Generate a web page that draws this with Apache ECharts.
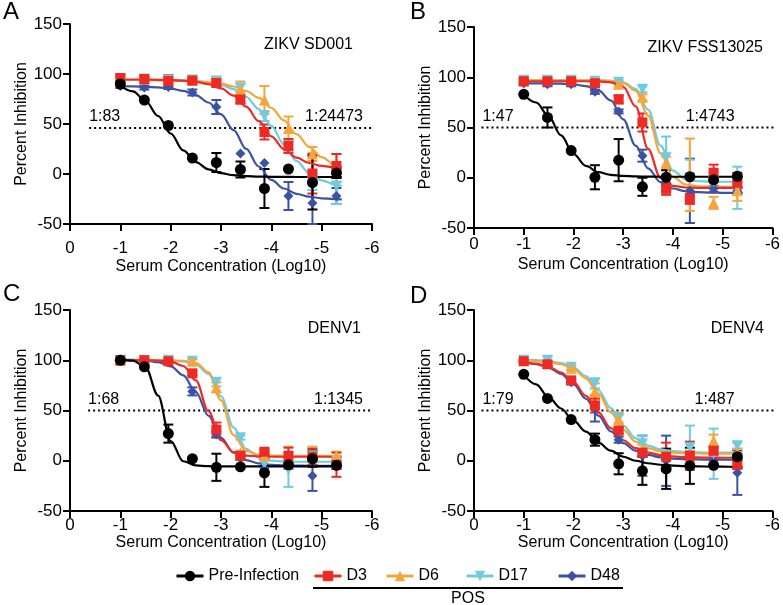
<!DOCTYPE html>
<html>
<head>
<meta charset="utf-8">
<script src="https://cdn.jsdelivr.net/npm/echarts@6/dist/echarts.min.js"></script>
<style>
html,body{margin:0;padding:0;background:#fff;}
#chart{width:783px;height:605px;}
</style>
</head>
<body>
<div id="chart"></div>
<script>
// ---------- data ----------
const SERIES_NAMES = ['Pre-Infection', 'D3', 'D6', 'D17', 'D48'];
// serum dilutions (log10), 3-fold series
const DILUTIONS = [-1, -1.477, -1.954, -2.431, -2.908, -3.386, -3.863, -4.340, -4.817, -5.294];
// x positions at which fitted curves were read
const CURVE_X = [-1, -1.25, -1.5, -1.75, -2, -2.25, -2.5, -2.75, -3, -3.25, -3.5, -3.75, -4, -4.25, -4.5, -4.75, -5, -5.25, -5.4];
const X_TICKS = [0, -1, -2, -3, -4, -5, -6];
const Y_TICKS = [-50, 0, 50, 100, 150];

// Panel A  (order: Pre-Infection, D3, D6, D17, D48)
const A_TITLE = 'ZIKV SD001';
const A_TITERS = ['1:83', '1:24473'];
const A_MEAN = [
  [90, 74, 48.5, 16, 11.5, 4.5, -14.5, 5, -8.5, 1],
  [96, 95, 93, 93.5, 91, 74.5, 42, 28, 0.5, 8],
  [95, 95, 94, 93.5, 93, 84.5, 74, 45.5, 20, 6],
  [95, 95, 94, 94, 93, 86, 58, 28, -8, -12],
  [88, 86.5, 87, 81.5, 67, 20.5, 11, -22, -29, -22]
];
const A_ERR = [
  [0, 0, 0, 0, 9.5, 8, 19.5, 0, 27, 5],
  [3, 2, 6, 2, 3, 4, 7.5, 7, 20, 12],
  [2, 2, 2, 2, 3, 8, 14, 12, 7, 14],
  [2, 2, 2, 2, 4, 4, 5, 6, 8, 18],
  [2, 2, 2, 3, 7, 0, 0, 14, 21, 8]
];
const A_FIT = [
  [88.4, 82.7, 73, 58, 40.5, 23.7, 11.9, 4.7, 0.8, -1.2, -2.1, -2.6, -2.8, -2.9, -3, -3, -3, -3, -3],
  [94.5, 94.5, 94.5, 94.2, 93.9, 93.3, 92.1, 89.8, 85.6, 78.4, 67.3, 52.8, 37.7, 25, 16.3, 11, 8.1, 6.6, 6.1],
  [94, 94, 94, 93.8, 93.6, 93.3, 92.8, 91.9, 90.3, 87.5, 83, 76.1, 66.2, 53.7, 39.9, 27.2, 16.9, 9.6, 6.5],
  [94, 94, 94, 93.8, 93.7, 93.4, 92.8, 91.6, 89.2, 84.9, 77.2, 65, 48.2, 29.6, 13.1, 1.1, -6.3, -10.4, -12],
  [88, 87.6, 87.3, 86.6, 85.4, 83.1, 78.9, 71.5, 59.6, 43.9, 25.1, 7.5, -5.9, -14.5, -19.8, -22.7, -24.3, -25.1, -25.4]
];

// Panel B
const B_TITLE = 'ZIKV FSS13025';
const B_TITERS = ['1:47', '1:4743'];
const B_MEAN = [
  [83, 60, 27, 0.5, 17.5, -9, 0.5, 1, -2, 1.5],
  [96, 96, 96, 94, 78, 55, -11, -21, 5, -5],
  [97, 97, 97, 96, 93, 80, 15, 3, -25, -13],
  [97, 97, 97, 96, 95, 88, 20, 0, -4, -10],
  [94, 93, 93, 85.5, 66, 22, -10, -13, -11, -13]
];
const B_ERR = [
  [0, 10, 0, 12, 21, 9, 7, 0, 0, 0],
  [2, 2, 2, 2, 4, 9, 6, 5, 8, 10],
  [2, 2, 2, 2, 2, 3, 6, 36, 6, 10],
  [2, 2, 2, 2, 2, 3, 21, 18, 5, 21],
  [2, 2, 2, 2, 2, 6, 3, 32, 3, 3]
];
const B_FIT = [
  [82.3, 74.9, 61.1, 42.1, 23.8, 11.8, 5.6, 2.9, 1.8, 1.3, 1.1, 1, 1, 1, 1, 1, 1, 1, 1],
  [96, 96, 96, 96, 96, 96, 95.8, 95, 90.5, 71, 28.7, -0.1, -8.1, -9.7, -10, -10, -10, -10, -10],
  [97, 97, 97, 97, 97, 97, 96.9, 96.4, 94.5, 86.5, 62.1, 24.3, 0.9, -6.7, -8.5, -8.9, -9, -9, -9],
  [97, 97, 97, 97, 97, 97, 96.9, 96.5, 95, 88.5, 67.8, 31.9, 7.1, -1.3, -3.5, -3.9, -4, -4, -4],
  [94, 94, 93.9, 93.6, 92.9, 91.2, 86.9, 76.9, 58.1, 32, 9.4, -4.4, -10.7, -13.4, -14.4, -14.8, -15, -15, -15]
];

// Panel C
const C_TITLE = 'DENV1';
const C_TITERS = ['1:68', '1:1345'];
const C_MEAN = [
  [100, 93.5, 27, 2, -6.5, -6, -12, -4, 2, -4.5],
  [100, 100, 99, 87, 31, 5, 9, 5, 4, -4],
  [100, 100, 100, 99, 73, 8, 5, 4, 5, 5],
  [100, 100, 100, 99, 78, 23, -3, -9, 5, 0],
  [100, 100, 99, 69, 26, 3, -8, -5, -15, -5]
];
const C_ERR = [
  [0, 0, 9, 0, 13.5, 0, 14, 0, 8, 0],
  [1, 1, 1, 2, 7, 2, 2, 8, 8, 12],
  [1, 1, 1, 2, 5, 2, 2, 10, 9, 4],
  [1, 1, 1, 2, 4, 2, 3, 17, 5, 3],
  [1, 1, 1, 4, 3, 2, 3, 3, 15, 3]
];
const C_FIT = [
  [100.8, 99.6, 93, 64.9, 19.6, -0.5, -4.7, -5.4, -5.5, -5.5, -5.5, -5.5, -5.5, -5.5, -5.5, -5.5, -5.5, -5.5, -5.5],
  [100, 100, 100, 99.7, 98.6, 94.3, 80, 49.3, 20.6, 8.6, 5.1, 4.3, 4, 4, 4, 4, 4, 4, 4],
  [100, 100, 100, 100, 100, 99.5, 97.4, 88, 60.1, 25.5, 9.9, 6, 5.2, 5, 5, 5, 5, 5, 5],
  [100, 100, 100, 100, 99.6, 98.8, 95.8, 86.5, 64.2, 33.2, 11.8, 2.9, 0.1, -0.7, -1, -1, -1, -1, -1],
  [101, 100.5, 99.8, 98.1, 94, 85, 68.2, 45, 22.8, 8.1, 0.6, -2.7, -4, -4.6, -4.9, -5, -5, -5, -5]
];

// Panel D
const D_TITLE = 'DENV4';
const D_TITERS = ['1:79', '1:487'];
const D_MEAN = [
  [86, 62, 41, 21, -3, -10, -8, -5, -4.5, 4],
  [99, 96, 80, 55, 30, 8, 4, 5, 10, -4],
  [100, 97, 92, 69, 41, 12, 6, 5, 20, 8],
  [100, 100, 93, 77, 42, 17, 5, 13, 7, 15],
  [99, 96, 78, 52, 21, 5, 0, 0, 0, -12]
];
const D_ERR = [
  [0, 0, 0, 6, 10.5, 14, 20, 18, 0, 0],
  [1, 2, 2, 7, 3, 3, 14, 14, 4, 4],
  [1, 2, 2, 8, 7, 4, 4, 5, 6, 4],
  [1, 3, 2, 5, 4, 8, 5, 22, 25, 3],
  [1, 2, 2, 13, 3, 20, 25, 3, 3, 22]
];
const D_FIT = [
  [85.7, 76, 63, 52, 40, 29, 18, 10, 4, 0, -2.5, -4, -4.8, -5.3, -5.6, -5.8, -5.9, -6, -6],
  [98.3, 96.7, 93.5, 87.8, 78.3, 64.6, 48.1, 32.5, 20.4, 12.6, 8, 5.6, 4.3, 3.6, 3.3, 3.1, 3, 3, 3],
  [99.7, 99.2, 98.2, 96, 91.4, 82, 67, 48.1, 31, 19, 12.6, 9.5, 8.1, 7.5, 7.2, 7.1, 7, 7, 7],
  [100.6, 100.2, 99.2, 97.1, 92.7, 84.3, 70.4, 52.4, 35, 22.3, 15, 11.3, 9.5, 8.7, 8.3, 8.1, 8, 8, 8],
  [98, 96.2, 92.7, 86.4, 76.2, 61.7, 44.9, 29.2, 17.5, 10, 5.8, 3.4, 2.2, 1.6, 1.3, 1.1, 1, 1, 1]
];

// 50% reference lines
const REF_LEVELS = [46, 50, 50, 50];

// ---------- styling / layout ----------
const FONT = '"Liberation Sans", Arial, Helvetica, sans-serif';
const COLORS = ['#000000', '#EE2A24', '#F7A43B', '#6FCBE0', '#3A53A4'];
const SYMBOLS = ['circle', 'rect', 'triangle', 'path://M0,0L10,0L5,9Z', 'diamond'];
const SYM_SIZE = [11, 10, 11, 11, 10];
const DRAW_ORDER = [4, 3, 2, 1, 0];

const PANELS = [
  { letter: 'A', title: A_TITLE, titers: A_TITERS, mean: A_MEAN, err: A_ERR, fit: A_FIT,
    grid: { left: 70, top: 24, width: 302, height: 200 }, xMargin: 16, xNameGap: 35,
    lineFrom: -0.38, labL: -0.38, labR: -5.82, titlePos: [353, 45], letterPos: [3, 12] },
  { letter: 'B', title: B_TITLE, titers: B_TITERS, mean: B_MEAN, err: B_ERR, fit: B_FIT,
    grid: { left: 474, top: 27, width: 301, height: 201 }, xMargin: 8, xNameGap: 29,
    lineFrom: -0.15, labL: -0.17, labR: -5.24, titlePos: [763, 47.5], letterPos: [410, 12] },
  { letter: 'C', title: C_TITLE, titers: C_TITERS, mean: C_MEAN, err: C_ERR, fit: C_FIT,
    grid: { left: 70, top: 310, width: 302, height: 201 }, xMargin: 6, xNameGap: 22,
    lineFrom: -0.36, labL: -0.36, labR: -5.82, titlePos: [361, 329], letterPos: [3, 294] },
  { letter: 'D', title: D_TITLE, titers: D_TITERS, mean: D_MEAN, err: D_ERR, fit: D_FIT,
    grid: { left: 474, top: 310, width: 301, height: 201 }, xMargin: 6, xNameGap: 22,
    lineFrom: -0.15, labL: -0.17, labR: -5.24, titlePos: [764, 329], letterPos: [410, 296] }
];
const LEGEND_LEFT = [175, 313, 385, 465, 557];

// ---------- build option ----------
const grids = [], xAxes = [], yAxes = [], series = [], graphics = [];

PANELS.forEach((p, i) => {
  grids.push(Object.assign({ containLabel: false }, p.grid));
  xAxes.push({
    gridIndex: i, type: 'value', min: -6, max: 0, interval: 1, inverse: true,
    axisLine: { show: true, onZero: false, lineStyle: { color: '#000', width: 2 } },
    axisTick: { show: true, length: 7, lineStyle: { color: '#000', width: 2 } },
    axisLabel: { margin: p.xMargin, fontSize: 17, color: '#000', fontFamily: FONT },
    splitLine: { show: false },
    name: 'Serum Concentration (Log10)', nameLocation: 'middle', nameGap: p.xNameGap,
    nameTextStyle: { fontSize: 16, color: '#000', fontFamily: FONT }
  });
  yAxes.push({
    gridIndex: i, type: 'value', min: -50, max: 150, interval: 50,
    axisLine: { show: true, onZero: false, lineStyle: { color: '#000', width: 2 } },
    axisTick: { show: true, length: 7, lineStyle: { color: '#000', width: 2 } },
    axisLabel: { margin: 8, fontSize: 17, color: '#000', fontFamily: FONT },
    splitLine: { show: false },
    name: 'Percent Inhibition', nameLocation: 'middle', nameGap: 40, nameRotate: 90,
    nameTextStyle: { fontSize: 16, color: '#000', fontFamily: FONT }
  });

  // dotted 50% line
  series.push({
    type: 'line', xAxisIndex: i, yAxisIndex: i, silent: true, clip: false,
    data: [[p.lineFrom, REF_LEVELS[i]], [-6.05, REF_LEVELS[i]]],
    showSymbol: false, symbol: 'none',
    lineStyle: { color: '#000', width: 2, type: [2, 3] }, z: 1
  });
  // titer annotations
  series.push({
    type: 'scatter', xAxisIndex: i, yAxisIndex: i, silent: true, symbolSize: 0,
    itemStyle: { color: '#000', opacity: 1 },
    data: [
      { value: [p.labL, REF_LEVELS[i]], label: { formatter: p.titers[0], position: 'insideBottomLeft' } },
      { value: [p.labR, REF_LEVELS[i]], label: { formatter: p.titers[1], position: 'insideBottomRight' } }
    ],
    label: { show: true, distance: 0, offset: [0, -3], fontSize: 16, color: '#000', opacity: 1,
             textBorderWidth: 0, textBorderColor: 'transparent', fontFamily: FONT },
    z: 1
  });

  DRAW_ORDER.forEach(k => {
    const color = COLORS[k];
    series.push({
      type: 'line', name: SERIES_NAMES[k], xAxisIndex: i, yAxisIndex: i, silent: true, clip: false,
      data: CURVE_X.map((x, j) => [x, p.fit[k][j]]),
      smooth: 0.35, smoothMonotone: 'x', showSymbol: false,
      symbol: SYMBOLS[k], symbolSize: SYM_SIZE[k],
      itemStyle: { color: color }, lineStyle: { color: color, width: 2.2 }, z: 2
    });
    series.push({
      type: 'custom', name: SERIES_NAMES[k], xAxisIndex: i, yAxisIndex: i, silent: true,
      data: DILUTIONS.map((x, j) => [x, p.mean[k][j], p.err[k][j]]).filter(d => d[2] > 0),
      encode: { x: 0, y: 1 },
      renderItem: (params, api) => {
        const x = api.value(0), m = api.value(1), e = api.value(2);
        const t = api.coord([x, m + e]);
        const b = api.coord([x, m - e]);
        const hw = 5;
        const st = { stroke: color, lineWidth: 2 };
        return {
          type: 'group', children: [
            { type: 'line', shape: { x1: t[0], y1: t[1], x2: b[0], y2: b[1] }, style: st },
            { type: 'line', shape: { x1: t[0] - hw, y1: t[1], x2: t[0] + hw, y2: t[1] }, style: st },
            { type: 'line', shape: { x1: b[0] - hw, y1: b[1], x2: b[0] + hw, y2: b[1] }, style: st }
          ]
        };
      },
      z: 2
    });
    series.push({
      type: 'scatter', name: SERIES_NAMES[k], xAxisIndex: i, yAxisIndex: i, silent: true,
      data: DILUTIONS.map((x, j) => [x, p.mean[k][j]]),
      symbol: SYMBOLS[k], symbolSize: SYM_SIZE[k],
      itemStyle: { color: color, opacity: 1 }, z: 2
    });
  });

  graphics.push({
    type: 'text', x: p.letterPos[0], y: p.letterPos[1],
    style: { text: p.letter, fontSize: 24, fontFamily: FONT, fill: '#000', align: 'left', verticalAlign: 'middle' }
  });
  graphics.push({
    type: 'text', x: p.titlePos[0], y: p.titlePos[1],
    style: { text: p.title, fontSize: 16, fontFamily: FONT, fill: '#000', align: 'right', verticalAlign: 'middle' }
  });
});

// POS bracket under the post-infection legend entries
graphics.push({ type: 'line', shape: { x1: 313, y1: 588, x2: 623, y2: 588 }, style: { stroke: '#000', lineWidth: 2 } });
graphics.push({
  type: 'text', x: 468, y: 599,
  style: { text: 'POS', fontSize: 16, fontFamily: FONT, fill: '#000', align: 'center', verticalAlign: 'middle' }
});

const legends = SERIES_NAMES.map((n, k) => ({
  data: [n], left: LEGEND_LEFT[k], top: 568, padding: 0, itemGap: 0,
  itemWidth: 27, itemHeight: 13, selectedMode: false,
  lineStyle: { width: 3 },
  textStyle: { fontSize: 16, color: '#000', fontFamily: FONT }
}));

const option = {
  animation: false,
  backgroundColor: '#fff',
  textStyle: { fontFamily: FONT },
  grid: grids, xAxis: xAxes, yAxis: yAxes,
  legend: legends,
  series: series,
  graphic: graphics
};

const chart = echarts.init(document.getElementById('chart'), null, { renderer: 'canvas' });
chart.setOption(option);
</script>
</body>
</html>
